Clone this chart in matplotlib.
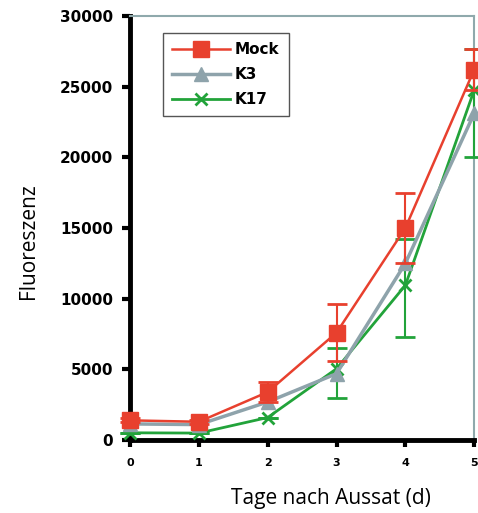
'''Fluoreszenz over days after sowing.'''
# pylint: disable=invalid-name
import matplotlib
matplotlib.use('Agg')
import matplotlib.pyplot as plt
from matplotlib.lines import Line2D

DAYS = [0, 1, 2, 3, 4, 5]

MOCK = [1400, 1300, 3400, 7600, 15000, 26200]
MOCK_ERR = [150, 150, 700, 2000, 2450, 1450]

K3 = [1150, 1100, 2700, 4700, 12500, 23100]

K17 = [520, 500, 1600, 5050, 10950, 24750]
K17_ERR_LOW = [0, 0, 0, 2100, 3650, 4700]
K17_ERR_HIGH = [0, 0, 0, 1500, 3250, 2900]

RED = '#e8402e'
GREY = '#8ea3ab'
GREEN = '#22a33a'


def main():
    '''Main.'''
    fig = plt.figure(figsize=(4.78, 5.13), dpi=100)
    ax = fig.add_axes([0.272, 0.142, 0.72, 0.827])

    ax.errorbar(DAYS, K17, yerr=[K17_ERR_LOW, K17_ERR_HIGH], color=GREEN,
                marker='x', markersize=9, markeredgewidth=2, linewidth=2,
                capsize=7, capthick=2, elinewidth=1.5,
                clip_on=False, zorder=3)
    ax.plot(DAYS, K3, color=GREY, marker='^', markersize=10,
            linewidth=2.5, clip_on=False, zorder=4)
    ax.errorbar(DAYS, MOCK, yerr=MOCK_ERR, color=RED, marker='s',
                markersize=11, linewidth=1.8, capsize=7, capthick=2,
                elinewidth=1.5, clip_on=False, zorder=5)

    ax.set_xlim(0, 5)
    ax.set_ylim(0, 30000)
    ax.set_xticks(DAYS)
    ax.set_yticks(range(0, 30001, 5000))

    for side in ('left', 'bottom'):
        ax.spines[side].set_linewidth(3.5)
        ax.spines[side].set_color('black')
    for side in ('top', 'right'):
        ax.spines[side].set_linewidth(1.5)
        ax.spines[side].set_color('#8fa9ac')

    ax.tick_params(axis='y', direction='out', length=6, width=3,
                   labelsize=11, pad=6)
    ax.tick_params(axis='x', direction='out', length=5, width=3,
                   labelsize=8, pad=8)
    for lbl in ax.get_xticklabels() + ax.get_yticklabels():
        lbl.set_fontweight('bold')

    ax.set_ylabel('Fluoreszenz', fontsize=15, family='Open Sans')
    ax.yaxis.set_label_coords(-0.265, 0.47)
    ax.set_xlabel('Tage nach Aussat (d)', fontsize=15, family='Open Sans')
    ax.xaxis.set_label_coords(0.584, -0.112)

    handles = [
        Line2D([], [], color=RED, marker='s', markersize=11, linewidth=1.8),
        Line2D([], [], color=GREY, marker='^', markersize=10, linewidth=2.5),
        Line2D([], [], color=GREEN, marker='x', markersize=9,
               markeredgewidth=2, linewidth=2),
    ]
    leg = ax.legend(handles, ['Mock', 'K3', 'K17'], loc='upper left',
                    bbox_to_anchor=(0.096, 0.96), borderaxespad=0,
                    fancybox=False, edgecolor='#555555', framealpha=1,
                    borderpad=0.6, handlelength=3.8, handletextpad=0.3,
                    labelspacing=0.65,
                    prop={'weight': 'bold', 'size': 11})
    leg.get_frame().set_linewidth(1)

    fig.savefig('out.png', dpi=100)


if __name__ == "__main__":
    main()
